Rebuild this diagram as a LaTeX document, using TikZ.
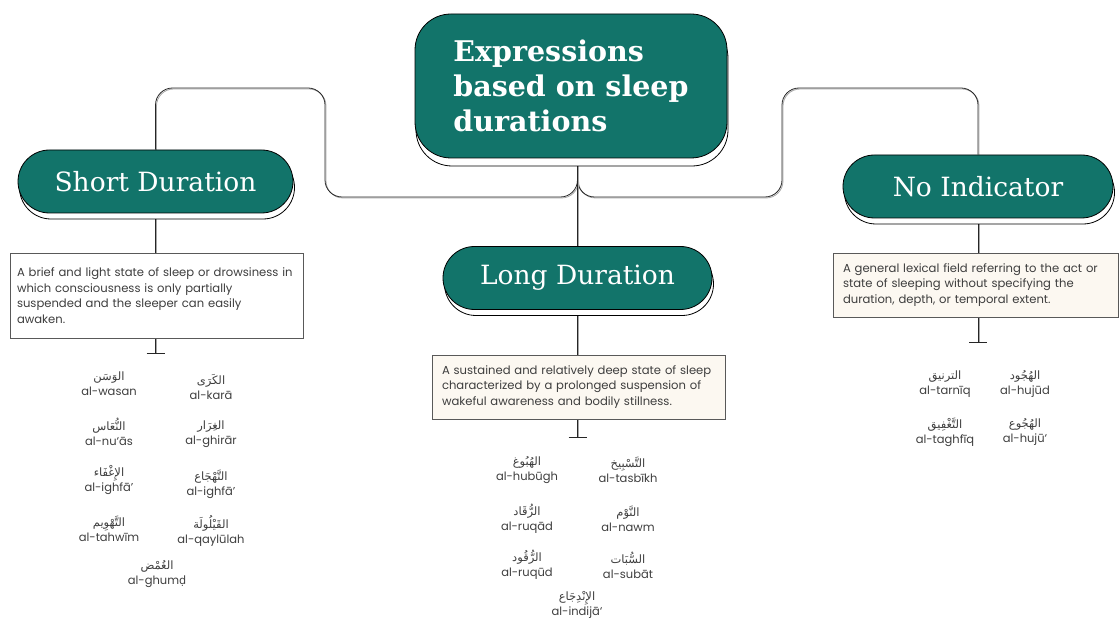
\documentclass[tikz,border=0pt]{standalone}
\usepackage{fontspec}
\usetikzlibrary{shapes.misc,shadows,backgrounds}
\setmainfont{DejaVu Serif}
\newfontfamily\popp{Poppins}
\newfontfamily\notos{Noto Sans}
\newfontfamily\arabicfont[Script=Arabic]{DejaVu Sans}
\TeXXeTstate=1
\definecolor{tealbox}{RGB}{18,116,106}
\definecolor{cream}{RGB}{252,248,241}
\definecolor{txt}{RGB}{62,62,62}
\newcommand{\ar}[1]{{\arabicfont\fontsize{11.5}{14}\selectfont\beginR #1\endR}}
\begin{document}
\begin{tikzpicture}[x=1pt,y=-1pt,
  pill/.style={rounded rectangle, fill=tealbox, draw=black, line width=0.8pt, text=white,
    font=\fontsize{26.5}{30}\selectfont, minimum height=63pt, inner sep=0pt,
    copy shadow={shadow xshift=1.5pt, shadow yshift=-6pt, fill=white, draw=black, line width=0.8pt}},
  mainbox/.style={rectangle, rounded corners=36pt, fill=tealbox, draw=black, line width=0.8pt, text=white,
    minimum width=312pt, minimum height=144pt, align=left, inner sep=0pt,
    font=\bfseries\fontsize{28.5}{35}\selectfont,
    copy shadow={shadow xshift=1pt, shadow yshift=-8pt, fill=white, draw=black, line width=0.8pt}},
  defbox/.style={rectangle, draw=black!65, line width=0.7pt, text=txt, align=left,
    font=\popp\fontsize{11.6}{15.5}\selectfont, inner ysep=0pt},
  word/.style={align=center, text=txt, inner sep=0pt, font=\popp\fontsize{11.5}{15}\selectfont},
  conn/.style={draw=black!85, line width=0.8pt, rounded corners=17pt,
    preaction={draw=black!35, line width=0.8pt, transform canvas={xshift=1pt,yshift=-1pt}}},
  tick/.style={draw=black!85, line width=0.8pt}
]
\useasboundingbox (0,0) rectangle (1119,628);

% main
\node[mainbox] (main) at (571,86) {Expressions\\based on sleep\\durations};

% category pills
\node[pill, minimum width=275pt] (short) at (155.5,181.5) {Short Duration};
\node[pill, minimum width=269pt] (long) at (577.5,278) {Long Duration};
\node[pill, minimum width=270pt] (nind) at (978,186.5) {No Indicator};

% definitions
\node[defbox, fill=white, text width=279pt, inner xsep=7pt, minimum height=85pt] (sdef) at (156.5,295.5)
  {A brief and light state of sleep or drowsiness in\\which consciousness is only partially\\suspended and the sleeper can easily\\awaken.};
\node[defbox, fill=cream, text width=273pt, inner xsep=10pt, minimum height=64pt] (ldef) at (578.5,387)
  {A sustained and relatively deep state of sleep\\characterized by a prolonged suspension of\\wakeful awareness and bodily stillness.};
\node[defbox, fill=cream, text width=265pt, inner xsep=10pt, minimum height=64pt] (ndef) at (975.5,285)
  {A general lexical field referring to the act or\\state of sleeping without specifying the\\duration, depth, or temporal extent.};

% coordinates
\coordinate (ltop) at (325,88);
\coordinate (lbot) at (325,197);
\coordinate (rtop) at (782,88);
\coordinate (rbot) at (782,197);
\coordinate (junc) at (long.north |- lbot);
\coordinate (mainbot) at (main.south -| long.north);
\coordinate (stick) at ([yshift=-15pt]sdef.south -| short.south);
\coordinate (ltick) at ([yshift=-18pt]ldef.south -| long.south);
\coordinate (ntick) at ([yshift=-25pt]ndef.south -| nind.south);

\begin{scope}[on background layer]
  \draw[conn] (short.north) |- (ltop) -- (lbot) -- (junc) [rounded corners=8pt] -- (mainbot);
  \draw[conn] (nind.north) |- (rtop) -- (rbot) -- (junc) [rounded corners=8pt] -- (mainbot);
  \draw[conn] (mainbot) -- (long.north);
  \draw[conn] (short.south) -- (short.south |- sdef.north);
  \draw[conn] (long.south) -- (long.south |- ldef.north);
  \draw[conn] (nind.south) -- (nind.south |- ndef.north);
  \draw[conn] (stick |- sdef.south) -- (stick);
  \draw[conn] (ltick |- ldef.south) -- (ltick);
  \draw[conn] (ntick |- ndef.south) -- (ntick);
\end{scope}
\draw[tick] ([xshift=-9pt]stick) -- ([xshift=9pt]stick);
\draw[tick] ([xshift=-9pt]ltick) -- ([xshift=9pt]ltick);
\draw[tick] ([xshift=-9pt]ntick) -- ([xshift=9pt]ntick);

% short duration words
\node[word] (w1) at (109,384) {\ar{الوَسَن}\\al-wasan};
\node[word] (w2) at (211,387) {\ar{الكَرَى}\\al-karā};
\node[word] (w3) at (109,432) {\ar{النُّعَاس}\\al-nu‘ās};
\node[word] (w4) at (211,434) {\ar{الغِرَار}\\al-ghirār};
\node[word] (w5) at (109,480) {\ar{الإِغْفَاء}\\al-ighfā’};
\node[word] (w6) at (211,484) {\ar{التَّهْجَاع}\\al-ighfā’};
\node[word] (w7) at (109,529) {\ar{التَّهْوِيم}\\al-tahwīm};
\node[word] (w8) at (211,531) {\ar{القَيْلُولَة}\\al-qaylūlah};
\node[word] (w9) at (157,574) {\ar{الغُمْض}\\al-ghum{\notos ḍ}};

% long duration words
\node[word] (w10) at (527,470) {\ar{الهُبُوغ}\\al-hubūgh};
\node[word] (w11) at (628,470) {\ar{التَّسْبِيخ}\\al-tasbīkh};
\node[word] (w12) at (527,519) {\ar{الرُّقَاد}\\al-ruqād};
\node[word] (w13) at (628,519) {\ar{النَّوْم}\\al-nawm};
\node[word] (w14) at (527,565) {\ar{الرُّقُود}\\al-ruqūd};
\node[word] (w15) at (628,565) {\ar{السُّبَات}\\al-subāt};
\node[word] (w16) at (577,605) {\ar{الإِنْدِجَاع}\\al-indijā‘};

% no indicator words
\node[word] (w17) at (945,384) {\ar{الترنيق}\\al-tarnīq};
\node[word] (w18) at (1025,384) {\ar{الهُجُود}\\al-hujūd};
\node[word] (w19) at (945,432) {\ar{التَّغْفِيق}\\al-taghfīq};
\node[word] (w20) at (1025,432) {\ar{الهُجُوع}\\al-hujū‘};
\end{tikzpicture}
\end{document}
